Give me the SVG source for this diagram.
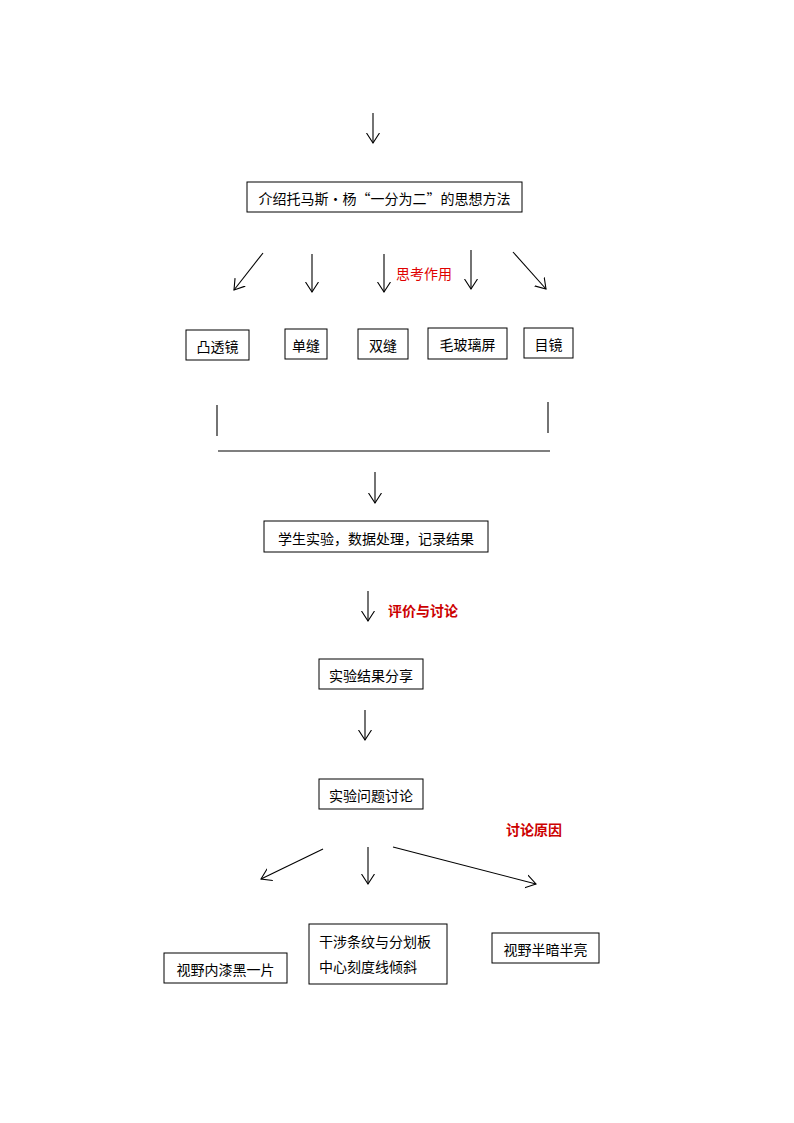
<svg xmlns="http://www.w3.org/2000/svg" width="794" height="1123" viewBox="0 0 794 1123">
<style>
.box{fill:#fff;stroke:#000;stroke-width:1}
.t{font-family:"Noto Sans CJK SC","Noto Sans",sans-serif;font-size:14px;fill:#000}
.red{font-family:"Noto Sans CJK SC","Noto Sans",sans-serif;font-size:14px;fill:#e00000}
.rb{font-weight:bold;fill:#cc0000}
.c{stroke:#000;stroke-width:1.1;fill:none}
</style>
<defs>
<marker id="ah" markerUnits="userSpaceOnUse" markerWidth="14" markerHeight="16" refX="10" refY="7" orient="auto" viewBox="0 0 14 14">
<path d="M0,0.5 L10,7 L0,13.5" fill="none" stroke="#000" stroke-width="1.1"/>
</marker>
</defs>
<rect width="794" height="1123" fill="#fff"/>
<g id="connectors">
<line class="c" x1="373" y1="113" x2="373" y2="143" marker-end="url(#ah)"/>
<line class="c" x1="263" y1="253" x2="234" y2="290" marker-end="url(#ah)"/>
<line class="c" x1="312" y1="254" x2="312" y2="292" marker-end="url(#ah)"/>
<line class="c" x1="384" y1="254" x2="384" y2="292" marker-end="url(#ah)"/>
<line class="c" x1="471" y1="250" x2="471" y2="289" marker-end="url(#ah)"/>
<line class="c" x1="513" y1="252" x2="546" y2="289" marker-end="url(#ah)"/>
<line class="c" x1="217" y1="405" x2="217" y2="436"/>
<line class="c" x1="548" y1="402" x2="548" y2="433"/>
<line class="c" x1="218" y1="451" x2="550" y2="451"/>
<line class="c" x1="375" y1="472" x2="375" y2="503" marker-end="url(#ah)"/>
<line class="c" x1="368" y1="591" x2="368" y2="621" marker-end="url(#ah)"/>
<line class="c" x1="365" y1="710" x2="365" y2="740" marker-end="url(#ah)"/>
<line class="c" x1="323" y1="849" x2="261" y2="879" marker-end="url(#ah)"/>
<line class="c" x1="368" y1="847" x2="368" y2="884" marker-end="url(#ah)"/>
<line class="c" x1="393" y1="847" x2="536" y2="884" marker-end="url(#ah)"/>
<text class="red" x="396" y="279">思考作用</text>
<text class="red rb" x="388" y="616">评价与讨论</text>
<text class="red rb" x="506" y="835">讨论原因</text>
</g>
<g id="n1"><rect class="box" x="247" y="182" width="275" height="30"/><text class="t" x="384.5" y="204" text-anchor="middle">介绍托马斯·杨“一分为二”的思想方法</text></g>
<g id="n2"><rect class="box" x="186" y="330" width="63" height="30"/><text class="t" x="217.5" y="352" text-anchor="middle">凸透镜</text></g>
<g id="n3"><rect class="box" x="285" y="329" width="42" height="30"/><text class="t" x="306" y="351" text-anchor="middle">单缝</text></g>
<g id="n4"><rect class="box" x="358" y="329" width="50" height="30"/><text class="t" x="383" y="351" text-anchor="middle">双缝</text></g>
<g id="n5"><rect class="box" x="428" y="328" width="79" height="31"/><text class="t" x="467.5" y="350" text-anchor="middle">毛玻璃屏</text></g>
<g id="n6"><rect class="box" x="524" y="328" width="49" height="30"/><text class="t" x="548.5" y="350" text-anchor="middle">目镜</text></g>
<g id="n7"><rect class="box" x="264" y="521" width="224" height="31"/><text class="t" x="376" y="544" text-anchor="middle">学生实验，数据处理，记录结果</text></g>
<g id="n8"><rect class="box" x="319" y="659" width="104" height="30"/><text class="t" x="371" y="681" text-anchor="middle">实验结果分享</text></g>
<g id="n9"><rect class="box" x="319" y="779" width="104" height="30"/><text class="t" x="371" y="801" text-anchor="middle">实验问题讨论</text></g>
<g id="n10"><rect class="box" x="164" y="953" width="123" height="30"/><text class="t" x="225.5" y="975" text-anchor="middle">视野内漆黑一片</text></g>
<g id="n11"><rect class="box" x="309" y="924" width="138" height="60"/><text class="t" x="319" y="947">干涉条纹与分划板</text><text class="t" x="319" y="972">中心刻度线倾斜</text></g>
<g id="n12"><rect class="box" x="492" y="933" width="107" height="30"/><text class="t" x="545.5" y="955" text-anchor="middle">视野半暗半亮</text></g>
</svg>
